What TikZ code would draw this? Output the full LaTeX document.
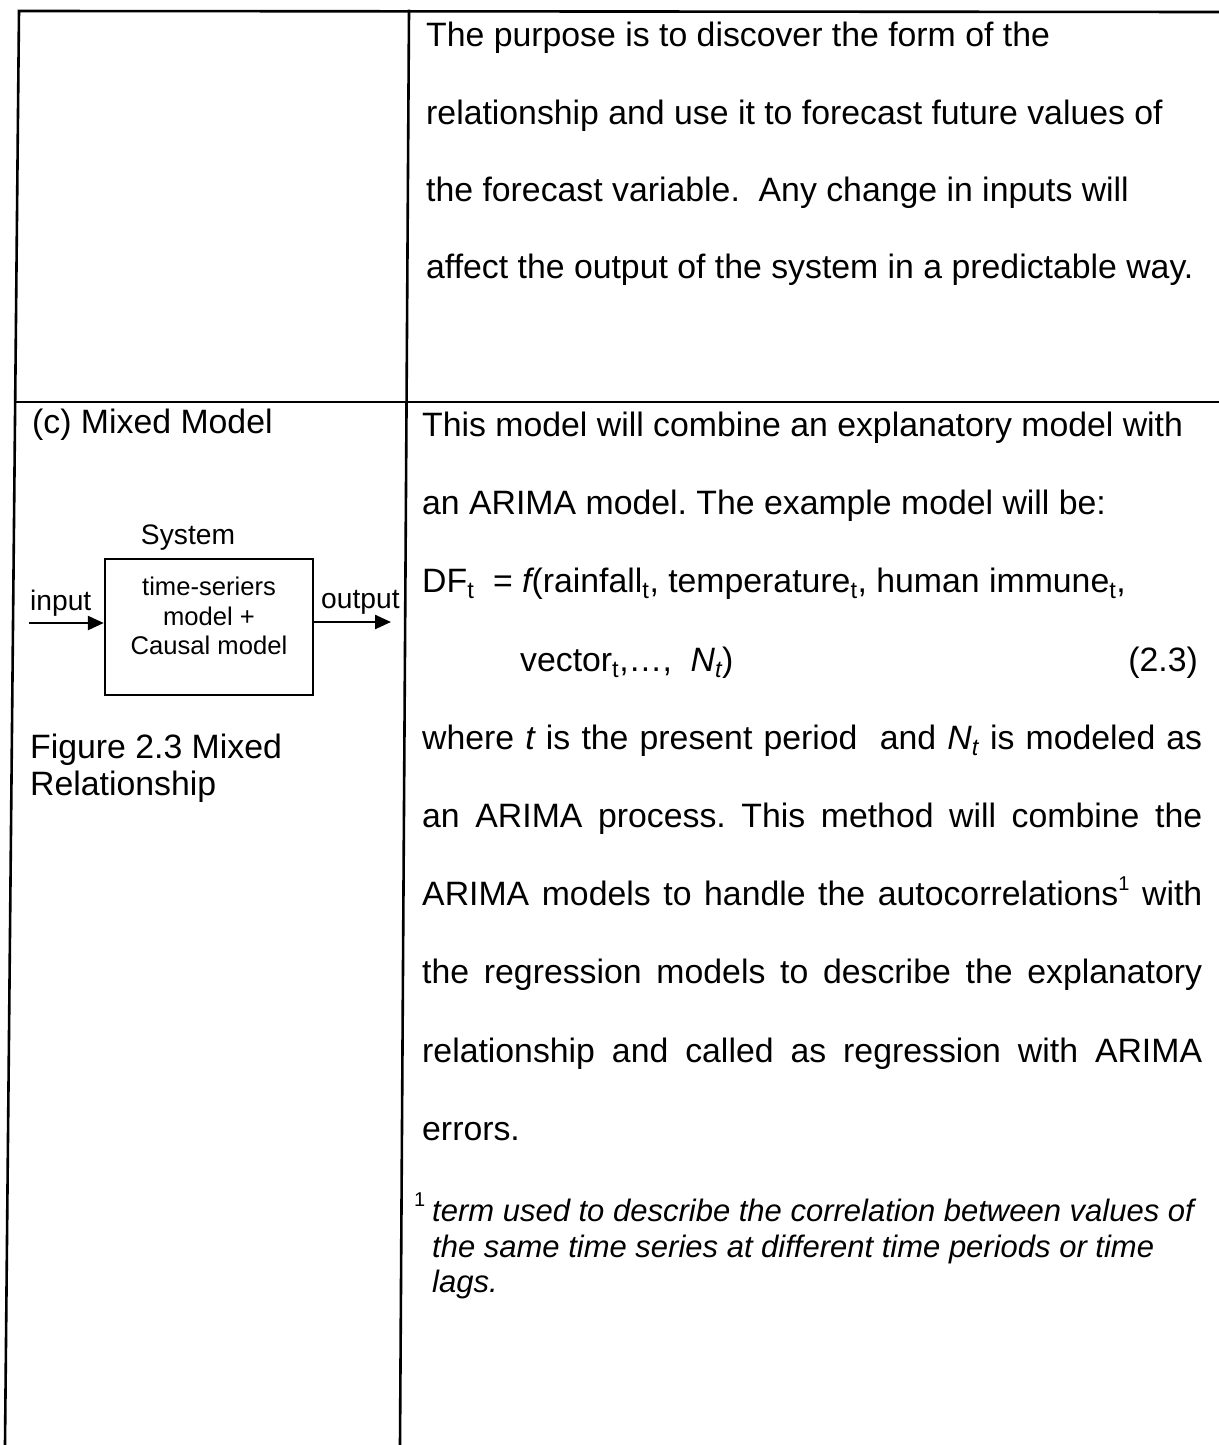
\documentclass[tikz,border=0pt]{standalone}
\usepackage{fontspec}
\setmainfont{Liberation Sans}
\usetikzlibrary{arrows.meta}
\newcommand\mainsz{\fontsize{33.8}{40}\selectfont}
\newcommand\diagsz{\fontsize{28.2}{30}\selectfont}
\newcommand\boxsz{\fontsize{25.6}{29.5}\selectfont}
\newcommand\footsz{\fontsize{31}{36}\selectfont}
\newcommand\jline[1]{\makebox[780pt][s]{#1}}
\newcommand\fnmark{\raisebox{0.42em}{\fontsize{20}{20}\selectfont 1}}
\frenchspacing
\begin{document}
\begin{tikzpicture}[x=1pt,y=-1pt,
  rule/.style={line width=2.6pt, line cap=rect},
  txt/.style={anchor=base west, inner sep=0pt, font=\mainsz},
  dtxt/.style={anchor=base west, inner sep=0pt, font=\diagsz},
  ftxt/.style={anchor=base west, inner sep=0pt, font=\footsz\itshape},
  sysbox/.style={draw, line width=2.4pt, minimum width=208pt, minimum height=136pt, inner sep=0pt},
  arr/.style={line width=2.4pt, -{Triangle[length=16pt,width=14pt]}}]
\useasboundingbox (0,0) rectangle (1218,1445);
% table rules
\draw[rule] (5,1445) -- (19,11) -- (1218,12);
\draw[rule] (400,1445) -- (409,11);
\draw[rule] (15,402) -- (1218,402);
% top right text
\node[txt] (t1) at (426,47) {The purpose is to discover the form of the};
\node[txt] (t2) at (426,124) {relationship and use it to forecast future values of};
\node[txt] (t3) at (426,201) {the forecast variable.\ \ Any change in inputs will};
\node[txt] (t4) at (426,278) {affect the output of the system in a predictable way.};
% left lower
\node[txt] (c) at (32,433) {(c) Mixed Model};
\node[dtxt, anchor=base] (systxt) at (188,544) {System};
\node[sysbox] (sys) at (209,627) {};
\node[inner sep=0pt, align=center, font=\boxsz, anchor=center] (boxtxt) at (209,616) {time-seriers\\model +\\Causal model};
\coordinate (inp) at (29,623);
\coordinate (outp) at (391,622);
\draw[arr] (inp) -- (inp -| sys.west);
\draw[arr] (outp -| sys.east) -- (outp);
\node[dtxt] (inlab) at (30,610) {input};
\node[dtxt] (outlab) at (321,608) {output};
\node[txt] (fig1) at (30,758) {Figure 2.3 Mixed};
\node[txt] (fig2) at (30,795) {Relationship};
% right lower text
\node[txt] (l1) at (422,436) {This model will combine an explanatory model with};
\node[txt] (l2) at (422,514) {an ARIMA model. The example model will be:};
\node[txt] (l3) at (422,592) {DF\textsubscript{t}\ \ = {\itshape f}(rainfall\textsubscript{t}, temperature\textsubscript{t}, human immune\textsubscript{t},};
\node[txt] (l4) at (520,671) {vector\textsubscript{t},…,\ \ {\itshape N\textsubscript{t}})};
\node[txt, anchor=base east] (eq) at (1198,671) {(2.3)};
\node[txt] (l5) at (422,749) {\jline{where {\itshape t} is the present period\ \ and {\itshape N\textsubscript{t}} is modeled as}};
\node[txt] (l6) at (422,827) {\jline{an ARIMA process. This method will combine the}};
\node[txt] (l7) at (422,905) {\jline{ARIMA models to handle the autocorrelations\fnmark{} with}};
\node[txt] (l8) at (422,983) {\jline{the regression models to describe the explanatory}};
\node[txt] (l9) at (422,1062) {\jline{relationship and called as regression with ARIMA}};
\node[txt] (l10) at (422,1140) {errors.};
% footnote
\node[anchor=base west, inner sep=0pt, font=\fontsize{20}{22}\selectfont] (fnm) at (414,1206) {1};
\node[ftxt] (f1) at (432,1221) {term used to describe the correlation between values of};
\node[ftxt] (f2) at (432,1257) {the same time series at different time periods or time};
\node[ftxt] (f3) at (432,1292) {lags.};
\end{tikzpicture}
\end{document}
